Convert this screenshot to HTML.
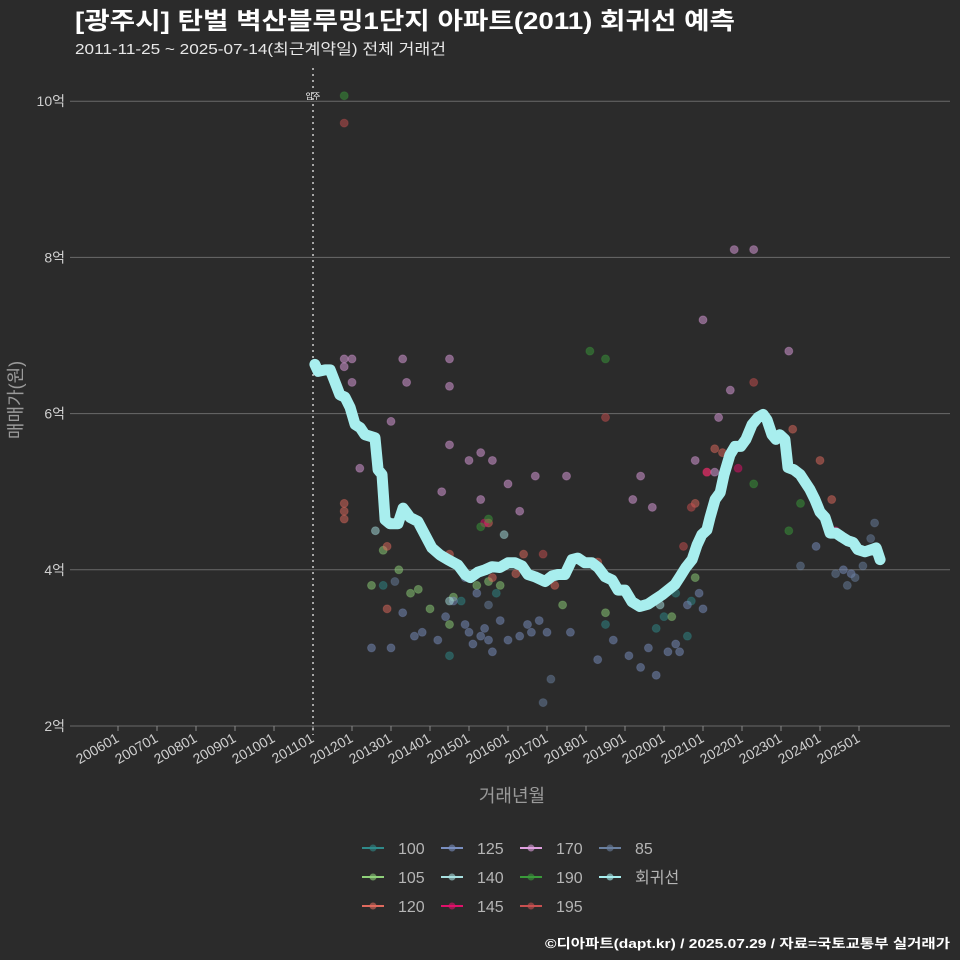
<!DOCTYPE html>
<html><head><meta charset="utf-8"><style>
html,body{margin:0;padding:0;background:#2b2b2b;overflow:hidden;width:960px;height:960px;}
svg{display:block;}
svg text{font-family:"Liberation Sans","Noto Sans CJK KR",sans-serif;}
</style></head><body>
<svg id="chart" width="960" height="960" viewBox="0 0 960 960" xmlns="http://www.w3.org/2000/svg">
<rect width="960" height="960" fill="#2b2b2b"/>
<text x="75" y="29" fill="#ffffff" font-size="24" font-weight="bold" textLength="660" lengthAdjust="spacingAndGlyphs">[광주시] 탄벌 벽산블루밍1단지 아파트(2011) 회귀선 예측</text>
<text x="75" y="54" fill="#e8e8e8" font-size="15" textLength="371" lengthAdjust="spacingAndGlyphs">2011-11-25 ~ 2025-07-14(최근계약일) 전체 거래건</text>
<g id="grid"></g><g id="axes"></g><g id="points"></g><g id="reg"></g><g id="legend"></g>
<text x="512" y="802" fill="#9a9a9a" font-size="18" text-anchor="middle">거래년월</text>
<text transform="translate(22,400) rotate(-90)" fill="#9a9a9a" font-size="18" text-anchor="middle">매매가(원)</text>
<text x="545" y="948" fill="#ffffff" font-size="13" font-weight="bold" textLength="405" lengthAdjust="spacingAndGlyphs">©디아파트(dapt.kr) / 2025.07.29 / 자료=국토교통부 실거래가</text>
</svg>
<script>
const yTicks=[2,4,6,8,10];
const yTickLabels=["2억","4억","6억","8억","10억"];
const xTickYears=[2006,2007,2008,2009,2010,2011,2012,2013,2014,2015,2016,2017,2018,2019,2020,2021,2022,2023,2024,2025];
const xTickLabels=["200601","200701","200801","200901","201001","201101","201201","201301","201401","201501","201601","201701","201801","201901","202001","202101","202201","202301","202401","202501"];
const moveInYear=2011.0;
const regYears=[2011.05,2011.13,2011.31,2011.44,2011.56,2011.69,2011.82,2011.95,2012.08,2012.21,2012.33,2012.46,2012.59,2012.67,2012.77,2012.85,2012.97,2013.18,2013.31,2013.49,2013.69,2013.87,2014.05,2014.26,2014.46,2014.72,2014.9,2015.03,2015.23,2015.41,2015.59,2015.79,2016.0,2016.18,2016.36,2016.51,2016.69,2016.95,2017.13,2017.28,2017.46,2017.64,2017.79,2017.97,2018.15,2018.31,2018.49,2018.67,2018.82,2019.0,2019.18,2019.38,2019.59,2019.77,2019.95,2020.1,2020.28,2020.41,2020.56,2020.72,2020.85,2020.97,2021.1,2021.18,2021.31,2021.44,2021.54,2021.69,2021.82,2021.97,2022.1,2022.26,2022.41,2022.54,2022.64,2022.77,2022.87,2022.97,2023.1,2023.18,2023.33,2023.49,2023.62,2023.74,2023.87,2024.0,2024.13,2024.26,2024.41,2024.56,2024.72,2024.85,2024.97,2025.15,2025.33,2025.44,2025.54];
const regValues=[6.63,6.54,6.56,6.56,6.41,6.24,6.21,6.08,5.86,5.82,5.73,5.71,5.69,5.28,5.22,4.64,4.59,4.59,4.79,4.67,4.62,4.45,4.28,4.19,4.13,4.06,3.94,3.90,3.97,4.0,4.04,4.03,4.09,4.09,4.05,3.94,3.91,3.85,3.92,3.94,3.94,4.13,4.15,4.09,4.09,4.03,3.91,3.87,3.74,3.74,3.59,3.53,3.56,3.62,3.68,3.74,3.81,3.91,4.03,4.13,4.32,4.45,4.51,4.67,4.90,4.99,5.22,5.47,5.58,5.58,5.67,5.86,5.95,5.99,5.92,5.73,5.67,5.73,5.67,5.31,5.28,5.22,5.12,5.03,4.90,4.74,4.67,4.47,4.47,4.42,4.37,4.35,4.26,4.23,4.26,4.28,4.13];
const sizes=["100","105","120","125","140","145","170","190","195","85"];
const sizeColors=["#2f8a8a","#8fd17a","#e06a5e","#7a8fc0","#a8e0e0","#e0106a","#e0a0e0","#3a9a3a","#c85050","#6a80a0"];
const pts100=[[2014.5,2.9],[2012.8,3.8],[2014.8,3.6],[2018.5,3.3],[2019.8,3.25],[2020.0,3.4],[2020.3,3.7],[2020.7,3.6],[2020.6,3.15],[2015.7,3.7]];
const pts105=[[2013.5,3.7],[2013.7,3.75],[2014.0,3.5],[2014.5,3.3],[2015.5,3.85],[2015.2,3.8],[2017.4,3.55],[2018.5,3.45],[2020.8,3.9],[2020.2,3.4],[2012.8,4.25],[2012.5,3.8],[2013.2,4.0],[2014.6,3.65],[2015.8,3.8]];
const pts120=[[2011.8,4.85],[2011.8,4.75],[2011.8,4.65],[2012.9,4.3],[2012.9,3.5],[2014.5,4.2],[2015.5,4.6],[2016.4,4.2],[2015.6,3.9],[2017.2,3.8],[2018.3,4.1],[2021.1,5.25],[2021.3,5.55],[2021.5,5.5],[2020.8,4.85],[2024.0,5.4],[2024.3,4.9],[2023.3,5.8],[2016.2,3.95]];
const pts125=[[2012.5,3.0],[2013.0,3.0],[2013.3,3.45],[2013.6,3.15],[2013.8,3.2],[2014.2,3.1],[2014.4,3.4],[2014.6,3.6],[2014.9,3.3],[2015.0,3.2],[2015.1,3.05],[2015.3,3.15],[2015.4,3.25],[2015.5,3.1],[2015.6,2.95],[2015.8,3.35],[2016.0,3.1],[2016.3,3.15],[2016.5,3.3],[2016.6,3.2],[2016.8,3.35],[2017.0,3.2],[2017.6,3.2],[2018.3,2.85],[2018.7,3.1],[2019.1,2.9],[2019.4,2.75],[2019.6,3.0],[2019.8,2.65],[2020.1,2.95],[2020.3,3.05],[2020.4,2.95],[2020.6,3.55],[2020.9,3.7],[2021.0,3.5],[2023.9,4.3],[2024.6,4.0],[2024.8,3.95],[2014.9,3.9],[2015.2,3.7]];
const pts140=[[2012.6,4.5],[2014.5,3.6],[2015.0,3.9],[2015.9,4.45],[2019.9,3.55]];
const pts145=[[2021.1,5.25],[2021.9,5.3],[2024.4,4.5],[2015.4,4.6]];
const pts170=[[2011.8,6.7],[2012.0,6.7],[2011.8,6.6],[2012.0,6.4],[2013.0,5.9],[2013.3,6.7],[2014.5,6.7],[2014.5,6.35],[2014.5,5.6],[2012.2,5.3],[2015.0,5.4],[2015.6,5.4],[2016.0,5.1],[2016.7,5.2],[2015.3,4.9],[2016.3,4.75],[2014.3,5.0],[2015.3,5.5],[2019.7,4.8],[2019.4,5.2],[2019.2,4.9],[2020.8,5.4],[2021.3,5.25],[2021.7,6.3],[2021.8,8.1],[2022.3,8.1],[2023.2,6.8],[2021.0,7.2],[2021.4,5.95],[2013.4,6.4],[2017.5,5.2]];
const pts190=[[2011.8,10.07],[2018.1,6.8],[2018.5,6.7],[2015.3,4.55],[2015.5,4.65],[2023.5,4.85],[2022.3,5.1],[2023.2,4.5]];
const pts195=[[2011.8,9.72],[2022.3,6.4],[2018.5,5.95],[2020.7,4.8],[2020.5,4.3],[2016.9,4.2]];
const pts85=[[2013.1,3.85],[2015.5,3.55],[2023.5,4.05],[2024.4,3.95],[2024.7,3.8],[2025.1,4.05],[2025.3,4.4],[2025.4,4.6],[2016.9,2.3],[2017.1,2.6],[2024.9,3.9]];
const allPts=[pts100,pts105,pts120,pts125,pts140,pts145,pts170,pts190,pts195,pts85];

const NS="http://www.w3.org/2000/svg";
const X0=70,X1=950,Y0=68,Y1=735;
function xs(y){return 313+(y-2011)*39;}
function ys(v){return 726-(v-2)*78.1;}
function mk(tag,attrs,parent){const e=document.createElementNS(NS,tag);for(const k in attrs)e.setAttribute(k,attrs[k]);parent.appendChild(e);return e;}
const grid=document.getElementById('grid'),axes=document.getElementById('axes'),pg=document.getElementById('points'),rg=document.getElementById('reg'),lg=document.getElementById('legend');
yTicks.forEach((t,i)=>{
  const l=mk('line',{x1:X0,x2:X1,y1:ys(t),y2:ys(t),stroke:'#6a6a6a','stroke-width':1},grid);
  
  
  const tx=mk('text',{x:65,y:ys(t)+5,fill:'#cfcfcf','font-size':14,'text-anchor':'end'},axes);
  tx.textContent=yTickLabels[i];
  
  
});
xTickYears.forEach((t,i)=>{
  const x=xs(t);
  const tk=mk('line',{x1:x,x2:x,y1:726,y2:731,stroke:'#8a8a8a'},axes);
  
  
  const tx=mk('text',{transform:`translate(${x+2},${741}) rotate(-30)`,fill:'#cfcfcf','font-size':14,'text-anchor':'end'},axes);
  tx.textContent=xTickLabels[i];
  
  
});
const mv=mk('line',{x1:xs(moveInYear),x2:xs(moveInYear),y1:Y0,y2:Y1,stroke:'#d0d0d0','stroke-width':1.5,'stroke-dasharray':'2,4'},axes);


const mvt=mk('text',{x:xs(moveInYear),y:99,fill:'#ffffff','font-size':8,'text-anchor':'middle'},axes);
mvt.textContent='입주';


allPts.forEach((arr,si)=>{arr.forEach(p=>{
  const c=mk('circle',{cx:xs(p[0]),cy:ys(p[1]),r:4,fill:sizeColors[si],'fill-opacity':0.5,stroke:sizeColors[si],'stroke-opacity':0.3},pg);
  
  
});});
const d=regYears.map((y,i)=>(i?'L':'M')+xs(y).toFixed(1)+','+ys(regValues[i]).toFixed(1)).join(' ');
const rp=mk('path',{d:d,fill:'none',stroke:'#a8eeee','stroke-width':11,'stroke-linejoin':'round','stroke-linecap':'round'},rg);


const legItems=[...sizes,"회귀선"];
const legColors=[...sizeColors,"#a8eeee"];
legItems.forEach((n,i)=>{
  const col=Math.floor(i/3),row=i%3;
  const x=362+col*79,y=848+row*29;
  const g=mk('g',{},lg);
  
  
  mk('line',{x1:x,x2:x+22,y1:y,y2:y,stroke:legColors[i],'stroke-width':2},g);
  mk('circle',{cx:x+11,cy:y,r:3.5,fill:legColors[i],'fill-opacity':0.6},g);
  const t=mk('text',{x:x+36,y:y+6,fill:'#b5b5b5','font-size':16},g);
  t.textContent=n;
});
</script>
</body></html>
